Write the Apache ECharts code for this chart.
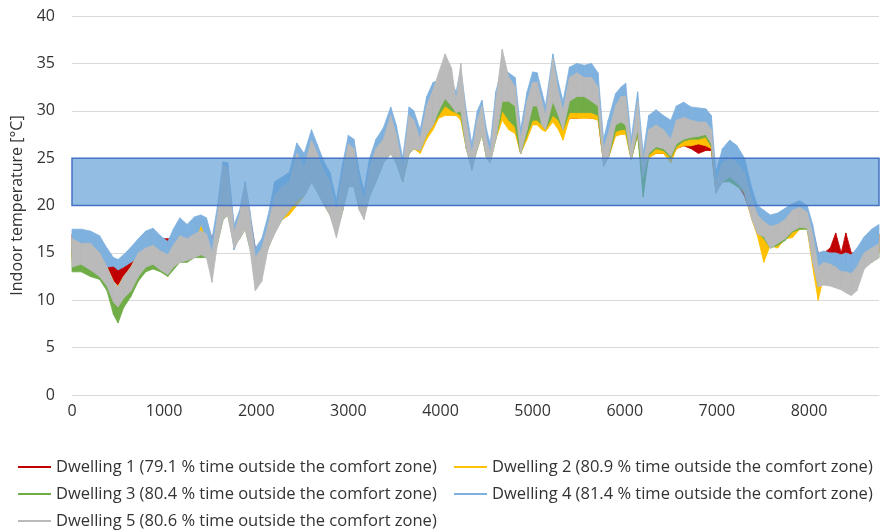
<!DOCTYPE html>
<html>
<head>
<meta charset="utf-8">
<script src="https://cdn.jsdelivr.net/npm/echarts@6/dist/echarts.min.js"></script>
<style>
html,body{margin:0;padding:0;background:#fff}
#chart{width:882px;height:532px}
</style>
</head>
<body>
<div id="chart"></div>
<script>
var hours = [0,100,200,300,380,450,500,560,640,720,
  800,880,960,1040,1100,1170,1250,1330,1400,1460,
  1520,1580,1640,1690,1760,1820,1880,1930,1990,2060,
  2130,2200,2280,2360,2440,2520,2600,2660,2740,2800,
  2870,2940,3000,3060,3120,3170,3230,3300,3380,3460,
  3520,3590,3660,3710,3780,3850,3920,3980,4050,4120,
  4170,4220,4280,4340,4400,4450,4500,4540,4600,4670,
  4740,4810,4870,4940,5000,5050,5100,5140,5220,5280,
  5330,5400,5480,5560,5640,5710,5770,5820,5900,5960,
  6010,6070,6140,6200,6260,6340,6420,6500,6560,6640,
  6720,6800,6880,6940,6990,7060,7140,7220,7300,7380,
  7440,7510,7580,7660,7740,7820,7900,7980,8040,8100,
  8160,8230,8290,8350,8400,8460,8520,8600,8680,8760];

// daily low / high envelope of each dwelling [°C]
var d1Low = [14.5,14.5,14,13.5,12.5,11.8,11.5,12,12.5,13.5,
  14,14.5,14,14,14.5,15,15,15.5,16,15.5,
  14.5,16.5,20,20,16.2,17,18.5,16.5,14.5,14.8,
  16.3,18,19,20,21,21.5,23.5,22.5,21,20,
  17.5,20.5,23,23,20.5,19.2,22,23.5,25,25.5,
  25,22.8,26,26.2,26,27.5,28.2,29.5,29.8,30,
  29.8,29.5,26.5,24.2,26.5,27.8,25.2,24.8,27.5,29.5,
  28.5,28,25.5,27.5,28.8,28.8,28.3,28,29,28.5,
  27.8,29.2,29.2,29.3,29.2,29.2,24.5,25,27.5,27.8,
  27.8,25,27.5,22.8,25.3,25.5,25.5,24.8,26,26.3,
  26,25.5,25.8,25.8,21.5,22.5,22.8,22.3,21,18.8,
  17,16.5,16,15.8,16.5,17.2,17.8,17.8,15,13.9,
  13.5,13.5,13.5,13.5,13.5,13,13.5,14,14.5,15];
var d1High = [17,16.5,16,15.2,14.5,13.6,13.3,13.5,14.6,15.5,
  16,16.5,16.5,16.5,16.5,17,17,18,18.6,18.3,
  16.5,18.5,23.5,23.5,17.5,19,22,19,15.5,16,
  18,21,22,22.5,25,24.5,26.5,25.5,24,23,
  19.5,23.5,26.5,26,22.5,20.5,24.5,26.5,27.2,29,
  27,24,29,28.5,27,30,31.5,32,32.5,32,
  30.5,32,28.5,25,28.5,30,26.5,25.5,30.5,32,
  31,30.5,26.5,29.5,30.5,30.5,30,29,31,30,
  29,31,31,31,31,30.5,26,27,29,29.5,
  29.5,26,29.5,24,26.5,27,26.5,26,27.5,28,
  27.5,27,27.2,27,22.5,24,24.5,24,23,20.5,
  19,18,17.5,17.8,18,19,19.5,19.6,17.5,15,
  15,15.5,17.1,15,17.1,15,15,15.5,16.5,17];

var d2Low = [14,14,13.5,13,11.5,10,9.8,10.5,11.5,13,
  14,14.5,14,13.5,14,14.5,14.5,15,15.5,15,
  14,16.5,19,19.5,16,16.8,18,16,14,14.5,
  16,17.5,18.5,19,20,21,22.5,22,20.5,19.5,
  17.2,20,22.5,22.5,20,19,21.5,23,25,25.5,
  25,22.5,25.5,26,25.5,27,28,29.2,29.5,29.5,
  29.5,29,26,24,26,27.5,25,24.6,27,29,
  28,27.6,25.5,27,28.5,28.5,28,27.8,28.8,28,
  26.9,29.2,29.2,29.2,29.2,29,24.5,25,27.3,27.5,
  27.5,24.8,27.5,22.5,25,25.5,25.5,24.5,26,26.3,
  26.3,26.5,26.3,26,21.5,22.5,22.8,22.3,21.3,18.5,
  16.8,14,15.8,15.5,16.5,16.6,17.5,17.5,13.5,10,
  12.5,12.5,12.3,12,12,11.5,12.5,14,14.5,15];
var d2High = [16.5,16,15.8,15,13.5,12,11.5,12.5,13.5,15,
  17,17.2,16,15.5,16,16.8,16.5,18,18.5,18.3,
  16,18.5,23,23,17,18.5,21.5,18.5,15,16,
  18,20.5,21.5,22,24.5,23.5,26,25,23,22,
  19,23,26,25.5,22,20,23.5,25.5,26.5,29,
  27,23.5,29,28.5,26.5,30,31.5,32,32.5,32,
  30.5,32,28.5,25,28.5,30,26.5,25.5,30.5,32,
  31,30.5,26.5,29.5,30.5,30.5,30,29,31,30,
  29,31,31,31,31,30.5,26,27,29,29.5,
  29.5,26,29.5,24,26.5,27,26.5,26,27.5,28,
  27.8,27.5,27.5,27,22.5,24,24.5,24,23,20.5,
  19,18,17.5,17.5,18,19,19.3,19.3,17,13.5,
  14,14,14,13.5,14,13.5,14.5,16.2,16.5,17];

var d3Low = [13,13,12.5,12.2,11,8.5,7.6,9.2,10.4,12,
  13,13.3,13,12.5,13.2,14,14,14.5,14.5,14.5,
  14.3,16,18.5,19,15.8,16.5,17.5,15.5,13.8,13.9,
  15.5,17.2,18.5,19.5,20.5,21,22.5,21.5,20,19,
  17,19.5,22,22,19.5,18.8,21,22.5,24.5,25.5,
  24.5,22.5,25.5,26,25.8,27.5,28.5,29.5,30.5,30,
  29.8,29.5,26,24,26,27.5,25,24.6,27,30,
  29,28.3,25.5,27.5,29,29,28.5,28,29.5,29,
  28,29.8,29.8,29.8,29.8,29.5,24.5,25,27.8,28,
  28,24.8,27.5,20.9,25.3,26,25.8,25,26.2,26.8,
  27,27,27.2,26.2,21.5,22.5,22.5,22,21.5,18.8,
  17.2,16.5,15.5,15.8,16.3,17.2,17.5,17.5,14.5,11.5,
  12.8,12.5,12,12,12,11.5,13,13.5,14,14.5];
var d3High = [15.5,15,14.8,14,12.5,11,10.5,11.5,12.5,14,
  14.5,15,14.5,14.2,15,16,16,16.5,16.5,16.5,
  15,18,23,23,16.8,18.5,21.5,18.5,14.5,15,
  17.5,20.5,21.5,22,25,23.5,26,25,23,22,
  19,23,26,25.5,22,20,23.5,25.5,26.5,29,
  27,23.5,29,28.5,26.8,30,32.5,33,34,33,
  30.5,33,28.5,25,28.5,30,26.5,25.5,30.5,33,
  32,31.9,27,30,31.5,31.5,30.5,29.5,32.5,31,
  29.5,32,32,32,32,31.5,26,27,29.5,30,
  30,26,30,24,27,27.5,27,26.5,28,28.5,
  28.3,28,28,27.5,22.5,24,24.5,24,23,20.5,
  19,18,17.5,17.8,18,19,19.3,19,17,14,
  14.5,14.3,14,13.8,14,13.5,14.5,15,15.5,16];

var d4Low = [15,15,14.5,14,13.5,13.6,13.2,13.5,14,14.5,
  15,15,14.5,14,15,15.5,15.5,16,18,16.5,
  14,17,20,20,15.3,17,18.5,16.5,14.5,15,
  16.5,18,19.5,20.5,21.5,22,23.5,22.5,21,20,
  17.5,20.5,23,23,20.5,19.5,22,23.5,25.5,26.5,
  25.5,23,26.5,27,26.5,28.5,29.5,31,32,31.5,
  30.5,31,27,24.5,27,28.5,25.5,25,28,32,
  32,31.5,26,29,31.5,31.5,29.5,28.5,32,30.5,
  29,32,32.5,32.5,32,31.5,25,26,29.5,29.8,
  29.5,25.3,29,23.5,26.5,27,27,26,27.5,28,
  28,28,28.2,27.5,22,23.5,24,23.5,22.5,19.5,
  18,17.5,16.5,17,17.5,18,18.5,18.3,15,13,
  13.2,13.2,13,12.8,12.8,12.5,13,14.5,15,15.5];
var d4High = [17.5,17.5,17.3,16.8,15.5,14.5,14.3,14.8,15.6,16.5,
  17.3,17.6,16.8,16.2,17.5,18.7,18,18.8,19,18.7,
  16.5,20,24.6,24.5,18,19.5,22.5,19.5,15.5,16.5,
  19,22.5,23,23.5,26.6,25.5,28,26.5,24.5,23.5,
  20.5,24.5,27.4,27,23.5,21.5,25,27,28.2,30.4,
  28.5,25,30.4,30,28,31.5,33,33.2,33.5,33,
  32,34.5,30,26.5,30,31.1,28,26.5,32,34.6,
  34,33.5,28,32,34.1,34,32,30.5,36,33,
  31,34.6,35,34.8,35,34,27,29,31.8,32.5,
  32.9,27,32,25.5,29.5,30.1,29.5,29,30.5,30.9,
  30.4,30.3,30.2,29.5,23.5,26,26.9,26.3,25,21.8,
  20,19.5,19,19.2,19.7,20.2,20.5,20,18,15,
  15.2,15,15,14.8,15,14.8,15.5,16.7,17.5,18];

var d5Low = [13.5,13.8,13.2,12.5,11.5,9.8,9.3,10.2,11,12.5,
  13.5,13.8,13.2,12.7,13.5,14,14.2,14.5,14.8,14.5,
  11.9,16,18.5,19,15.5,16.5,17.5,15.5,11,12,
  15.5,17,18.5,19.5,20.5,21,22.5,21.5,20,19,
  16.6,19.5,22,22,19.5,18.5,21,22.5,24.5,25.5,
  24.5,22.5,25.5,26,25.8,27.5,28.5,30,31.3,30.5,
  29.8,30,26,23.7,26,27.5,25,24.5,27,31,
  31,30.5,25.5,28,30.5,30.5,28.5,28,31,29.5,
  28,31,31.5,31.5,31,30.5,24.1,25,28.5,28.8,
  28.5,24.8,28,23,25.5,26.2,26,25.2,26.5,27,
  27.2,27.3,27.5,26.5,21.3,22.5,23,22.4,21.5,18.5,
  17,16.7,15.5,16,16.5,17.3,17.7,17.6,14,11.4,
  11.6,11.5,11.3,11.1,10.8,10.5,11,13.3,14,14.5];
var d5High = [16.5,16,16,15,13.5,12,11.4,12.5,13.5,15,
  15.5,15.8,15.2,14.8,15.8,16.8,16.5,17,17.3,17,
  15,19,24.3,24,17.2,19,22.3,19,14.5,15.5,
  18,21,22,22.5,25.5,24,26.9,25.5,23.5,22.5,
  19.5,23.5,26.5,26,22.5,20.5,24,26,27,29.5,
  27.5,24,29.5,29,27,30.5,32.2,34,36,34.5,
  31,35,29,25.5,29,30.5,27,25.5,31,36.5,
  33.6,32.5,27,31,33,33,31,29.5,35.5,32,
  30,33.5,34,33.5,33.5,32.5,26,27.5,30.5,31.5,
  31.5,26,31,24.5,28,28.5,28,27,29,29.3,
  29,28.8,28.8,28,22.5,24.5,25,24.5,23.5,20.6,
  19,18.3,17.8,18,18.5,19.5,19.8,19.3,17,13.5,
  14,13.8,13.5,13,13,12.8,13.5,15,15.5,16];

var names = ['Dwelling 1 (79.1 % time outside the comfort zone)',
  'Dwelling 2 (80.9 % time outside the comfort zone)',
  'Dwelling 3 (80.4 % time outside the comfort zone)',
  'Dwelling 4 (81.4 % time outside the comfort zone)',
  'Dwelling 5 (80.6 % time outside the comfort zone)'];
var colors = ['#C00000','#FFC000','#70AD47','#7FB1DF','#BABABA'];
var comfortZone = [20, 25];
var yTicks = [0, 40, 5];
var xTicks = [0, 8760, 1000];

var lows = [d1Low, d2Low, d3Low, d4Low, d5Low];
var highs = [d1High, d2High, d3High, d4High, d5High];
var font = '"Open Sans", Lato, sans-serif';

// each dwelling is drawn as the band between its daily lows and highs
function bandRenderer(i) {
	return function (params, api) {
		var k = params.dataIndex;
		if (k >= hours.length - 1) return;
		var pts = [
			api.coord([api.value(0), api.value(1)]),
			api.coord([hours[k + 1], lows[i][k + 1]]),
			api.coord([hours[k + 1], highs[i][k + 1]]),
			api.coord([api.value(0), api.value(2)])
		];
		return {
			type: 'polygon',
			shape: {points: pts},
			style: {fill: colors[i], stroke: colors[i], lineWidth: 0.8}
		};
	};
}

var series = [];
for (var i = 0; i < 5; i++) {
	var rows = [];
	for (var k = 0; k < hours.length; k++) {
		rows.push([hours[k], lows[i][k], highs[i][k]]);
	}
	series.push({
		type: 'custom', name: names[i], data: rows,
		encode: {x: 0, y: [1, 2]},
		itemStyle: {color: colors[i]},
		silent: true,
		renderItem: bandRenderer(i)
	});
}
// comfort zone band, drawn over the curves
series.push({
	type: 'line', name: 'comfort', data: [],
	markArea: {
		silent: true, z: 10,
		itemStyle: {color: 'rgba(91,155,213,0.66)', borderColor: '#4472C4', borderWidth: 1.5},
		data: [[{xAxis: xTicks[0], yAxis: comfortZone[0]}, {xAxis: xTicks[1], yAxis: comfortZone[1]}]]
	}
});

var legendPos = [[18, 457], [454, 457], [18, 484], [454, 484], [18, 511]];
var legends = [];
for (var j = 0; j < 5; j++) {
	legends.push({
		data: [names[j]], left: legendPos[j][0], top: legendPos[j][1],
		padding: 0, icon: 'rect', itemWidth: 33, itemHeight: 2,
		selectedMode: false,
		textStyle: {fontFamily: font, fontSize: 16.5, color: '#333', lineHeight: 20}
	});
}

var myChart = echarts.init(document.getElementById('chart'));
myChart.setOption({
	animation: false,
	grid: {left: 72, right: 2, top: 16, bottom: 137},
	legend: legends,
	xAxis: {
		type: 'value', min: xTicks[0], max: xTicks[1], interval: xTicks[2],
		axisLine: {show: true, lineStyle: {color: '#D9D9D9', width: 1}},
		axisTick: {show: false},
		splitLine: {show: false},
		axisLabel: {
			margin: 8, color: '#333', fontFamily: font, fontSize: 16,
			formatter: function (v) { return v % 1000 === 0 ? String(v) : ''; }
		}
	},
	yAxis: {
		type: 'value', min: yTicks[0], max: yTicks[1], interval: yTicks[2],
		name: 'Indoor temperature [°C]', nameLocation: 'middle', nameGap: 46,
		nameTextStyle: {fontFamily: font, fontSize: 16, color: '#333'},
		axisLine: {show: false},
		axisTick: {show: false},
		splitLine: {lineStyle: {color: '#D9D9D9', width: 1}},
		axisLabel: {margin: 17, color: '#333', fontFamily: font, fontSize: 16}
	},
	series: series
});
</script>
</body>
</html>
